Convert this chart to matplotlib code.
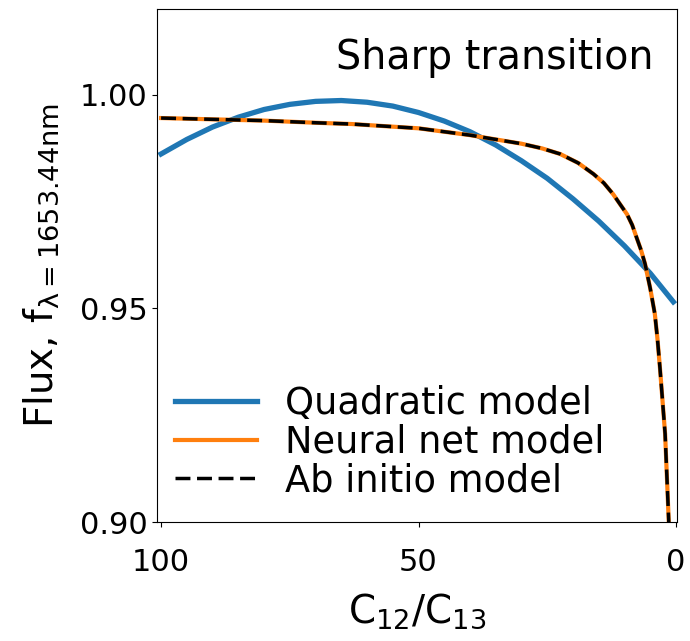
import numpy as np
import matplotlib
matplotlib.use('Agg')
import matplotlib.pyplot as plt

# values
quad_x = [100, 95, 90, 85, 80, 75, 70, 65, 60, 55, 50, 45, 40, 35, 30, 25, 20, 15, 10, 5, 0.5]
quad_y = [0.9861, 0.9895, 0.9924, 0.9947, 0.9965, 0.9977, 0.9984, 0.9986, 0.9982, 0.9973,
          0.9958, 0.9938, 0.9913, 0.9882, 0.9845, 0.9804, 0.9756, 0.9704, 0.9646, 0.9582, 0.9515]

nn_x = [100, 90, 80, 70, 63, 50, 40, 30, 26, 22.5, 19, 16, 14, 12.2, 11, 9.5, 8.5, 7.6,
        6.8, 6.0, 5.0, 4.1, 3.6, 3.1, 2.1, 1.4, 1.0]
nn_y = [0.9945, 0.9942, 0.9939, 0.9934, 0.9931, 0.9921, 0.9905, 0.9885, 0.9874, 0.9861,
        0.9840, 0.9814, 0.9793, 0.9767, 0.9746, 0.9720, 0.9695, 0.9664, 0.9637, 0.9604,
        0.9547, 0.9487, 0.9430, 0.9360, 0.9206, 0.9003, 0.8880]

ab_x = nn_x
ab_y = nn_y

plt.rcParams['mathtext.default'] = 'regular'

fig = plt.figure(figsize=(6.9, 6.41), dpi=100)
ax = fig.add_axes([0.2275, 0.1856, 0.7536, 0.8003])

ax.plot(quad_x, quad_y, color='#1f77b4', lw=3.8, label='Quadratic model')
ax.plot(nn_x, nn_y, color='#ff7f0e', lw=3.0, label='Neural net model')
ax.plot(ab_x, ab_y, color='black', lw=2.5, ls='--', dashes=(4.3, 1.9),
        label='Ab initio model')

ax.set_xlim(100.8, -0.2)
ax.set_ylim(0.90, 1.02)
ax.set_xticks([100, 50, 0])
ax.set_yticks([0.90, 0.95, 1.00])
ax.set_yticklabels(['0.90', '0.95', '1.00'])
ax.tick_params(labelsize=22)
ax.tick_params(axis='x', pad=15.5)

ax.set_xlabel('C$_{12}$/C$_{13}$', fontsize=28, labelpad=10)
ax.set_ylabel(r'Flux, f$_{\lambda=1653.44nm}$', fontsize=28, labelpad=13)

ax.text(0.954, 0.8825, 'Sharp transition', transform=ax.transAxes,
        ha='right', va='baseline', fontsize=28.5)

ax.legend(loc='lower left', bbox_to_anchor=(0.006, 0.016), borderaxespad=0,
          fontsize=26.5, frameon=False, handlelength=2.23, handletextpad=0.76,
          labelspacing=0.04)

fig.savefig('out.png', dpi=100)
